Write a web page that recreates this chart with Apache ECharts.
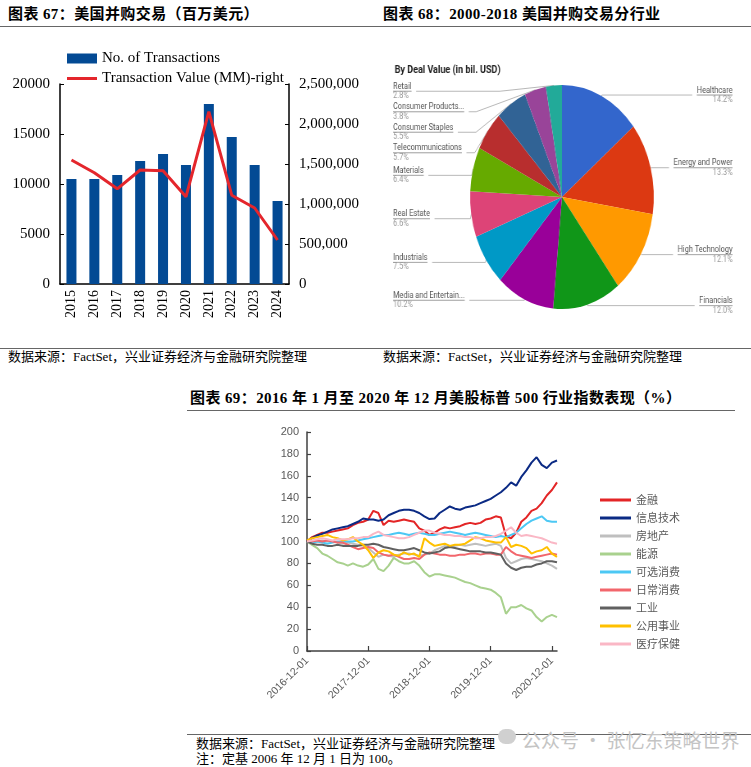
<!DOCTYPE html>
<html>
<head>
<meta charset="utf-8">
<script src="https://cdn.jsdelivr.net/npm/echarts@6/dist/echarts.min.js"></script>
<style>
body { margin: 0; width: 751px; height: 767px; background: #fff; position: relative; overflow: hidden;
  font-family: "Liberation Serif", "Noto Sans CJK SC", serif; }
.t { position: absolute; font-weight: bold; font-size: 15px; letter-spacing: 0.4px; line-height: 16px; color: #000; white-space: nowrap; }
.s { position: absolute; font-size: 13px; line-height: 14px; color: #000; white-space: nowrap; }
.rule { position: absolute; height: 0; border-top: 1.5px solid #666; }
#bar { position: absolute; left: 0; top: 40px; width: 375px; height: 300px; }
#pie { position: absolute; left: 375px; top: 40px; width: 458px; height: 300px; transform: scaleX(0.82); transform-origin: 0 0; }
#line { position: absolute; left: 180px; top: 415px; width: 571px; height: 310px; }
.wm { position: absolute; left: 522px; top: 726px; font-family: "Noto Sans CJK SC", sans-serif; font-size: 19px; color: #c4c4c4; white-space: nowrap; }
.wmi { position: absolute; left: 498px; top: 729px; width: 18px; height: 15px; border-radius: 8px; background: #d0d0d0; }
</style>
</head>
<body>
<div class="t" style="left:8px;top:6px">图表 67：美国并购交易（百万美元）</div>
<div class="t" style="left:383px;top:6px">图表 68：2000-2018 美国并购交易分行业</div>
<div class="rule" style="left:0;top:26px;width:751px"></div>

<div id="bar"></div>
<div id="pie"></div>

<div class="rule" style="left:0;top:348px;width:751px"></div>
<div class="s" style="left:8px;top:350px">数据来源：FactSet，兴业证券经济与金融研究院整理</div>
<div class="s" style="left:383px;top:350px">数据来源：FactSet，兴业证券经济与金融研究院整理</div>

<div class="t" style="left:190px;top:390px">图表 69：2016 年 1 月至 2020 年 12 月美股标普 500 行业指数表现（%）</div>
<div class="rule" style="left:187px;top:410px;width:548px"></div>

<div id="line"></div>

<div class="rule" style="left:187px;top:734px;width:564px"></div>
<div class="s" style="left:196px;top:737px">数据来源：FactSet，兴业证券经济与金融研究院整理</div>
<div class="s" style="left:196px;top:752px">注：定基 2006 年 12 月 1 日为 100。</div>
<div class="wmi"></div>
<div class="wm">公众号 · 张忆东策略世界</div>

<script>
// chart 67
const years = ['2015', '2016', '2017', '2018', '2019', '2020', '2021', '2022', '2023', '2024'];
const txCount = [10500, 10500, 10900, 12300, 13000, 11900, 18000, 14700, 11900, 8300];
const txValue = [1550000, 1390000, 1190000, 1425000, 1415000, 1090000, 2155000, 1110000, 950000, 550000];

// chart 68
const sectors = ['Healthcare', 'Energy and Power', 'High Technology', 'Financials', 'Media and Entertain...',
  'Industrials', 'Real Estate', 'Materials', 'Telecommunications', 'Consumer Staples', 'Consumer Products...', 'Retail'];
const shares = [14.2, 13.3, 12.1, 12.0, 10.2, 7.5, 6.6, 6.4, 5.7, 5.5, 3.8, 2.8];
const pieColors = ['#3366cc', '#dc3912', '#ff9900', '#109618', '#990099', '#0099c6',
  '#dd4477', '#66aa00', '#b82e2e', '#316395', '#994499', '#22aa99'];

// chart 69 (monthly, 2016-12 .. 2020-12)
const months = ['2016-12-01'];
for (let y = 2017; y <= 2020; y++) {
  for (let m = 1; m <= 12; m++) months.push(y + '-' + String(m).padStart(2, '0') + '-01');
}
months.push('2020-12-31');

const finance = [100,104,106,108,108,109,110,111,112,115, 117,118,120,128,126,115,119,118,119,120,
  119,118,112,110,106,108,111,113,112,113, 114,116,117,116,117,120,121,123,122,105,
  103,108,118,122,128,130,135,142,147,154];
const infoTech = [100,103,105.5,107,109,111,112,113,114,116, 118,121,120,120,119,120,124,126,128,129,
  129,128,126,123,120.5,121,126,129,132,130, 129,131,132,133,135,137,139,142,145,149,
  154,151,159,165,172,177,170,167,172,174];
const realEstate = [100,99,100,101,100,100,99,98,99,98, 97,96,94,90,86,88,87,86,88,89,
  89,88,87,88,89,92,94,96,95,96, 97,96,97,98,97,96,97,98,96,85,
  80,82,84,85,84,83,82,80,78,75];
const energy = [100,97,94,89,87,84,81,80,78,80, 78,77,79,84,75,73,78,85,82,80,
  80,82,78,72,68,70,70,69,68,67, 65,63,62,60,58,57,56,53,49,34,
  40,40,42,39,37,31,27,31,33,31];
const consDisc = [100,99,100,99,98,99,100,100,100,100, 101,102,103,104,105,106,106,107,108,107,
  106,107,108,107,106,106,107,108,109,108, 107,106,107,108,107,106,105,104,105,104,
  106,108,112,116,119,121,123,119,118,118];
const consStaples = [100,100,101,100,101,100,99,99,97,95, 93,94,95,94,90,88,87,88,86,84,
  84,85,84,88,90,89,88,88,87,87, 88,88,89,89,88,89,89,88,88,95,
  91,88,87,86,85,86,87,88,89,88];
const industrials = [100,98,97,97,96,96,97,96,96,96, 96,97,97,98,97,95,94,93,92,92,
  93,94,92,90,89,90,91,94,95,94, 93,92,91,91,91,90,90,89,88,80,
  76,74,76,77,77,79,80,82,82,81];
const utilities = [101,103,104,105,106,104,103,101,102,104, 100,97,92,85,90,92,91,88,87,90,
  88,89,86,103,99,96,97,98,96,97, 97,98,101,104,103,101,100,99,99,104,
  95,97,96,94,89,91,92,95,89,86];
const healthCare = [100,101,102,103,102,101,102,102,102,103, 103,104,104,107,109,106,105,104,103,103,
  104,106,108,110,110,108,107,106,106,105, 105,104,104,103,103,104,104,105,107,110,
  113,108,105,106,105,104,103,101,99,98];

const serif = 'Liberation Serif';
// flat line legend icon (tiny corner specks keep the 30x10 box)
const lineIcon = 'path://M0,3.5L30,3.5L30,6.5L0,6.5Z M0,0L0.05,0L0.05,0.05Z M29.95,9.95L30,9.95L30,10Z';

var barChart = echarts.init(document.getElementById('bar'));
barChart.setOption({
  animation: false,
  legend: {
    orient: 'vertical', left: 62, top: 5, itemWidth: 30, itemHeight: 10, itemGap: 3,
    textStyle: { fontFamily: serif, fontSize: 15, color: '#000', lineHeight: 17 },
    data: [
      { name: 'No. of Transactions', icon: 'rect' },
      { name: 'Transaction Value (MM)-right', icon: lineIcon, itemStyle: { color: '#e4262c' } }
    ]
  },
  grid: { left: 60, right: 86, top: 44, bottom: 56 },
  xAxis: {
    type: 'category', data: years,
    axisLine: { lineStyle: { color: '#000', width: 1.5 } },
    axisTick: { show: false },
    axisLabel: { rotate: 90, margin: 6, fontFamily: serif, fontSize: 14, color: '#000' }
  },
  yAxis: [
    {
      type: 'value', min: 0, max: 20000, interval: 5000, splitLine: { show: false },
      axisLine: { show: true, lineStyle: { color: '#000', width: 1.5 } },
      axisTick: { show: true, inside: true, length: 4 },
      axisLabel: { fontFamily: serif, fontSize: 15, color: '#000', margin: 10, formatter: v => String(v) }
    },
    {
      type: 'value', min: 0, max: 2500000, interval: 500000, splitLine: { show: false },
      axisLine: { show: true, lineStyle: { color: '#000', width: 1.5 } },
      axisTick: { show: true, inside: true, length: 4 },
      axisLabel: { fontFamily: serif, fontSize: 15, color: '#000', margin: 10,
        formatter: v => v.toLocaleString('en-US') }
    }
  ],
  series: [
    { name: 'No. of Transactions', type: 'bar', data: txCount, barWidth: 10,
      itemStyle: { color: '#034a94' } },
    { name: 'Transaction Value (MM)-right', type: 'line', yAxisIndex: 1, data: txValue,
      symbol: 'none', lineStyle: { color: '#e4262c', width: 3 }, itemStyle: { color: '#e4262c' } }
  ]
});

var pieChart = echarts.init(document.getElementById('pie'));
pieChart.setOption({
  animation: false,
  title: {
    text: 'By Deal Value (in bil. USD)', left: 19, top: 20,
    textStyle: { fontFamily: 'Roboto', fontSize: 11, fontWeight: 'bold', color: '#222' }
  },
  series: [{
    type: 'pie', left: 0, right: 0, top: 41, bottom: 0,
    center: [228, 116], radius: 112, startAngle: 90, clockwise: true,
    data: sectors.map((n, i) => ({ name: n, value: shares[i], itemStyle: { color: pieColors[i] } })),
    label: {
      alignTo: 'edge', edgeDistance: 22,
      formatter: p => '{n|' + p.name + '}\n{hr|}\n{p|' + p.value.toFixed(1) + '%}',
      rich: {
        n: { fontFamily: 'Roboto', fontSize: 9, color: '#555', lineHeight: 9.5 },
        hr: { borderColor: '#9a9a9a', borderWidth: 0.6, width: '100%', height: 0 },
        p: { fontFamily: 'Roboto', fontSize: 9, color: '#9a9a9a', lineHeight: 9.5 }
      }
    },
    labelLine: { length: 1, length2: 0, lineStyle: { color: '#9a9a9a', width: 0.7 } }
  }]
});

var lineChart = echarts.init(document.getElementById('line'));
const showDec = (i, v) => v.slice(4) === '-12-01';
const lineSeries = [
  ['金融', finance, '#e32526'],
  ['信息技术', infoTech, '#0b2a84'],
  ['房地产', realEstate, '#bfbfbf'],
  ['能源', energy, '#a9d18e'],
  ['可选消费', consDisc, '#4cc8f4'],
  ['日常消费', consStaples, '#f2666c'],
  ['工业', industrials, '#606060'],
  ['公用事业', utilities, '#ffc000'],
  ['医疗保健', healthCare, '#fab7c5']
];
lineChart.setOption({
  animation: false,
  legend: {
    orient: 'vertical', left: 415, top: 74, icon: 'rect', itemWidth: 31, itemHeight: 3, itemGap: 6,
    textStyle: { fontFamily: 'Noto Sans CJK SC', fontSize: 11, color: '#595959', lineHeight: 12 },
    data: lineSeries.map(s => s[0])
  },
  grid: { left: 127, top: 17, width: 250, height: 219 },
  xAxis: {
    type: 'category', data: months, boundaryGap: false,
    axisLine: { lineStyle: { color: '#404040', width: 1.5 } },
    axisTick: { inside: true, length: 5, interval: showDec, lineStyle: { color: '#404040', width: 1.2 } },
    axisLabel: { interval: showDec, rotate: 45, margin: 8, fontFamily: 'Liberation Sans', fontSize: 10.5, color: '#595959' }
  },
  yAxis: {
    type: 'value', min: 0, max: 200, interval: 20, splitLine: { show: false },
    axisLine: { show: true, lineStyle: { color: '#404040', width: 1.5 } },
    axisTick: { show: true, inside: true, length: 4, lineStyle: { color: '#404040', width: 1.2 } },
    axisLabel: { fontFamily: 'Liberation Sans', fontSize: 11, color: '#595959', margin: 8 }
  },
  series: lineSeries.map(s => ({
    name: s[0], type: 'line', data: s[1], showSymbol: false, symbol: 'none',
    lineStyle: { color: s[2], width: 2 }, itemStyle: { color: s[2] }
  }))
});
</script>
</body>
</html>
